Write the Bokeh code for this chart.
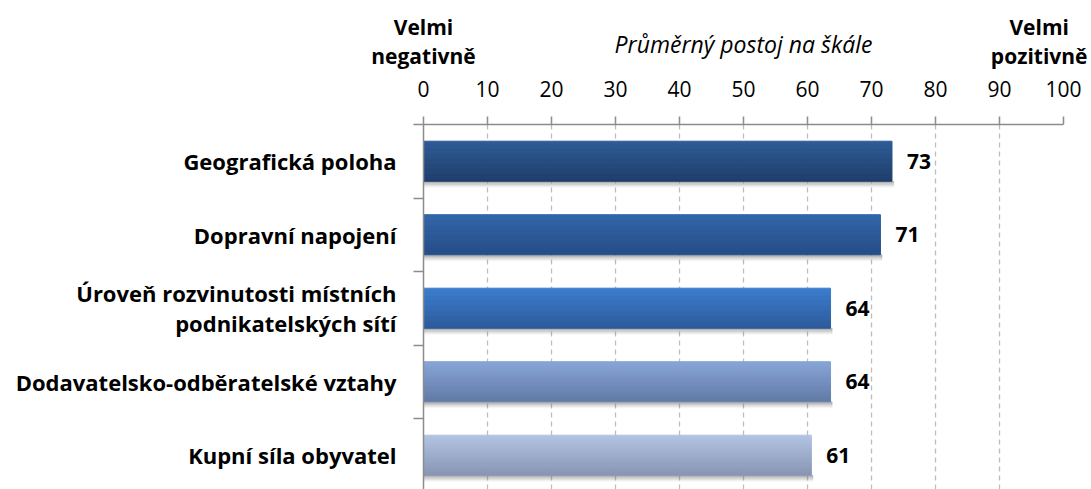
from bokeh.plotting import figure
from bokeh.models import Range1d, FixedTicker, LinearAxis, ColumnDataSource
from bokeh.core.properties import value
from bokeh.embed import file_html
from bokeh.resources import INLINE

categories = ["Geografická poloha", "Dopravní napojení",
              "Úroveň rozvinutosti místních\npodnikatelských sítí",
              "Dodavatelsko-odběratelské vztahy", "Kupní síla obyvatel"]
values = [73.2, 71.4, 63.6, 63.6, 60.6]
value_labels = ["73", "71", "64", "64", "61"]
top_colors = ["#2E5C97", "#3366AA", "#3C7DCF", "#88A6D8", "#B3C4E3"]
bottom_colors = ["#1F3E6B", "#254D87", "#2C5B9B", "#627AA5", "#8896B4"]
x_ticks = [0, 10, 20, 30, 40, 50, 60, 70, 80, 90, 100]
x_title = "Průměrný postoj na škále"
end_notes = {0: "Velmi\nnegativně", 96.2: "Velmi\npozitivně"}

FONT = "Open Sans"
n = len(categories)
ypos = list(range(n))
bar_h = 0.544
unit_px = 73.5
frame_h = 365

p = figure(width=1091, height=489, output_backend="svg", toolbar_location=None,
           x_axis_location="above",
           x_range=Range1d(0, 100),
           y_range=Range1d(-0.5 + frame_h / unit_px, -0.5),
           min_border_left=423, min_border_top=124, min_border_right=28,
           min_border_bottom=0)
p.outline_line_color = None
p.background_fill_color = "white"
p.border_fill_color = "white"

# grid
p.xgrid.ticker = FixedTicker(ticks=x_ticks[1:])
p.xgrid.grid_line_color = "#BDBDBD"
p.xgrid.grid_line_dash = "5 4"
p.xgrid.grid_line_width = 1.3
p.ygrid.grid_line_color = None

# top axis
xa = p.xaxis[0]
xa.ticker = FixedTicker(ticks=x_ticks)
xa.axis_line_color = "#8C8C8C"
xa.axis_line_width = 1.5
xa.major_tick_line_color = "#8C8C8C"
xa.major_tick_line_width = 1.5
xa.major_tick_out = 8
xa.major_tick_in = 0
xa.minor_tick_line_color = None
xa.major_label_text_font = FONT
xa.major_label_text_font_size = "21px"
xa.major_label_text_color = "#000000"
xa.major_label_standoff = 20
xa.axis_label = x_title
xa.axis_label_text_font = FONT
xa.axis_label_text_font_style = "italic"
xa.axis_label_text_font_size = "23px"
xa.axis_label_text_color = "#000000"
xa.axis_label_standoff = 18

# outer header axis with end notes
ha = LinearAxis(ticker=FixedTicker(ticks=list(end_notes.keys())),
                major_label_overrides=end_notes)
ha.axis_line_color = None
ha.major_tick_line_color = None
ha.minor_tick_line_color = None
ha.major_tick_out = 0
ha.major_tick_in = 0
ha.major_label_text_font = FONT
ha.major_label_text_font_style = "bold"
ha.major_label_text_font_size = "21px"
ha.major_label_text_color = "#000000"
ha.major_label_text_line_height = 1.03
ha.major_label_standoff = -45
p.add_layout(ha, "above")

# left axis
ya = p.yaxis[0]
ya.ticker = FixedTicker(ticks=ypos, minor_ticks=[i + 0.5 for i in range(-1, n)])
ya.major_label_overrides = {i: c for i, c in zip(ypos, categories)}
ya.axis_line_color = "#8C8C8C"
ya.axis_line_width = 1.5
ya.major_tick_line_color = None
ya.major_tick_out = 0
ya.major_tick_in = 0
ya.minor_tick_line_color = "#8C8C8C"
ya.minor_tick_line_width = 1.5
ya.minor_tick_out = 10
ya.minor_tick_in = 0
ya.major_label_text_font = FONT
ya.major_label_text_font_style = "bold"
ya.major_label_text_font_size = "22px"
ya.major_label_text_color = "#000000"
ya.major_label_text_line_height = 1.0
ya.major_label_standoff = 17


def mix(c1, c2, t):
    a = [int(c1[i:i + 2], 16) for i in (1, 3, 5)]
    b = [int(c2[i:i + 2], 16) for i in (1, 3, 5)]
    return "#%02x%02x%02x" % tuple(round(a[j] + (b[j] - a[j]) * t) for j in range(3))


# shadow under bars
px = 1.0 / unit_px
sh = dict(y=[], right=[], color=[], alpha=[])
for i in range(n):
    for k, a in enumerate([0.35, 0.22, 0.12, 0.05]):
        sh["y"].append(i + bar_h / 2 + (k + 0.5) * 1.5 * px)
        sh["right"].append(values[i] + 0.25)
        sh["color"].append("#7F7F7F")
        sh["alpha"].append(a)
p.hbar(y="y", right="right", left=0.15, height=1.5 * px, color="color", alpha="alpha",
       source=ColumnDataSource(sh))

# gradient bars
strips = 16
gs = dict(y=[], right=[], color=[])
for i in range(n):
    for k in range(strips):
        t = (k + 0.5) / strips
        gs["y"].append(i - bar_h / 2 + t * bar_h)
        gs["right"].append(values[i])
        gs["color"].append(mix(top_colors[i], bottom_colors[i], t))
p.hbar(y="y", right="right", left=0, height=bar_h / strips * 1.05, color="color",
       source=ColumnDataSource(gs))

# value labels
p.text(x=values, y=ypos, text=value_labels, x_offset=15,
       text_font=value(FONT), text_font_style="bold", text_font_size="21px",
       text_color="#000000", text_align="left", text_baseline="middle")

open("out.html", "w").write(file_html(p, INLINE))
